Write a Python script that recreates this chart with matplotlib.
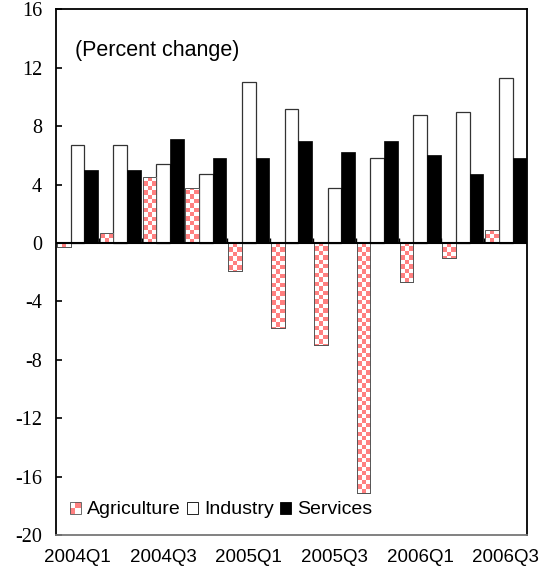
import numpy as np
import matplotlib
matplotlib.use("Agg")
import matplotlib.pyplot as plt
from matplotlib.colors import ListedColormap
from matplotlib.patches import Rectangle
from matplotlib.legend_handler import HandlerBase

quarters = ["2004Q1", "2004Q2", "2004Q3", "2004Q4", "2005Q1", "2005Q2",
            "2005Q3", "2005Q4", "2006Q1", "2006Q2", "2006Q3"]
agriculture = [-0.3, 0.7, 4.5, 3.8, -1.9, -5.8, -7.0, -17.1, -2.7, -1.0, 0.9]
industry = [6.7, 6.7, 5.4, 4.7, 11.0, 9.2, 3.8, 5.8, 8.8, 9.0, 11.3]
services = [5.0, 5.0, 7.1, 5.8, 5.8, 7.0, 6.2, 7.0, 6.0, 4.7, 5.8]
yticks = [-20, -16, -12, -8, -4, 0, 4, 8, 12, 16]

PINK = "#ff8080"
checker_cmap = ListedColormap(["white", PINK])


class CheckerHandler(HandlerBase):
    # legend key drawn as a 2x2 checker square
    def create_artists(self, legend, orig, xd, yd, w, h, fs, trans):
        s = min(w, h)
        x0 = xd + (w - s) / 2
        y0 = yd + (h - s) / 2
        arts = []
        for i in range(2):
            for j in range(2):
                c = PINK if (i + j) % 2 == 0 else "white"
                arts.append(Rectangle((x0 + i * s / 2, y0 + j * s / 2), s / 2, s / 2,
                                      facecolor=c, edgecolor="none", transform=trans))
        arts.append(Rectangle((x0, y0), s, s, facecolor="none",
                              edgecolor="#555555", lw=0.6, transform=trans))
        return arts


class SquareHandler(HandlerBase):
    def create_artists(self, legend, orig, xd, yd, w, h, fs, trans):
        s = min(w, h)
        r = Rectangle((xd + (w - s) / 2, yd + (h - s) / 2), s, s,
                      facecolor=orig.get_facecolor(), edgecolor="black", lw=0.6,
                      transform=trans)
        return [r]


fig = plt.figure(figsize=(5.44, 5.75), dpi=100)
ax = fig.add_axes([0.103, 0.0696, 0.866, 0.914])

x = np.arange(len(quarters))
w = 0.32

ag_bars = ax.bar(x - w, agriculture, w, facecolor="white", edgecolor="#555555",
                 linewidth=0.7, zorder=2)
ax.bar(x, industry, w, facecolor="white", edgecolor="#333333", linewidth=0.9, zorder=2)
ax.bar(x + w, services, w, facecolor="black", edgecolor="black", linewidth=0.5, zorder=2)

ax.set_xlim(-0.5, len(quarters) - 0.5)
ax.set_ylim(-20, 16)

# checkerboard fill for agriculture bars, clipped to each bar
cx, cy = 0.105, 0.3
for bar in ag_bars:
    bx = bar.get_x()
    bw = bar.get_width()
    by = bar.get_y()
    bh = bar.get_height()
    y_top = max(by, by + bh)
    y_bot = min(by, by + bh)
    nx = int(np.ceil(bw / cx)) + 1
    ny = int(np.ceil((y_top - y_bot) / cy)) + 1
    grid = (np.add.outer(np.arange(ny), np.arange(nx)) % 2).astype(float)
    if y_bot >= 0:
        ext = [bx, bx + nx * cx, y_bot, y_bot + ny * cy]
        img = ax.imshow(grid, cmap=checker_cmap, extent=ext, origin="lower",
                        interpolation="nearest", aspect="auto", zorder=2.5)
    else:
        ext = [bx, bx + nx * cx, y_top - ny * cy, y_top]
        img = ax.imshow(grid, cmap=checker_cmap, extent=ext, origin="upper",
                        interpolation="nearest", aspect="auto", zorder=2.5)
    img.set_clip_path(bar)
    ax.add_patch(Rectangle((bx, by), bw, bh, facecolor="none", edgecolor="#555555",
                           linewidth=0.7, zorder=2.6))

ax.set_xlim(-0.5, len(quarters) - 0.5)
ax.set_ylim(-20, 16)

# zero line with small ticks at group boundaries
ax.axhline(0, color="black", linewidth=1.5, zorder=3)
bounds = np.arange(len(quarters) + 1) - 0.5
ax.vlines(bounds[1:-1], 0, 0.35, color="black", linewidth=1.0, zorder=1)

ax.set_yticks(yticks)
ax.set_yticklabels([str(v) for v in yticks], fontfamily="Liberation Serif", fontsize=14.5)
ax.tick_params(axis="y", direction="in", length=4, width=1.2, pad=10)

ax.set_xticks(x[::2])
ax.set_xticklabels(quarters[::2], fontfamily="Liberation Sans", fontsize=13.5)
ax.tick_params(axis="x", length=0, pad=10)

for sp in ax.spines.values():
    sp.set_linewidth(1.3)
ax.spines["bottom"].set_color("#777777")

ax.text(0.04, 0.921, "(Percent change)", transform=ax.transAxes,
        fontfamily="Liberation Sans", fontsize=15.5, va="center", ha="left")

h_ag = Rectangle((0, 0), 1, 1, facecolor=PINK)
h_ind = Rectangle((0, 0), 1, 1, facecolor="white")
h_srv = Rectangle((0, 0), 1, 1, facecolor="black")
ax.legend([h_ag, h_ind, h_srv], ["Agriculture", "Industry", "Services"],
          handler_map={h_ag: CheckerHandler(), h_ind: SquareHandler(), h_srv: SquareHandler()},
          loc="lower left", bbox_to_anchor=(0.0, 0.007), ncol=3, frameon=False,
          prop={"family": "Liberation Sans", "size": 14},
          handlelength=0.6, handleheight=0.6, handletextpad=0.3, columnspacing=0.3,
          borderaxespad=0.3)

fig.savefig("out.png", dpi=100)
